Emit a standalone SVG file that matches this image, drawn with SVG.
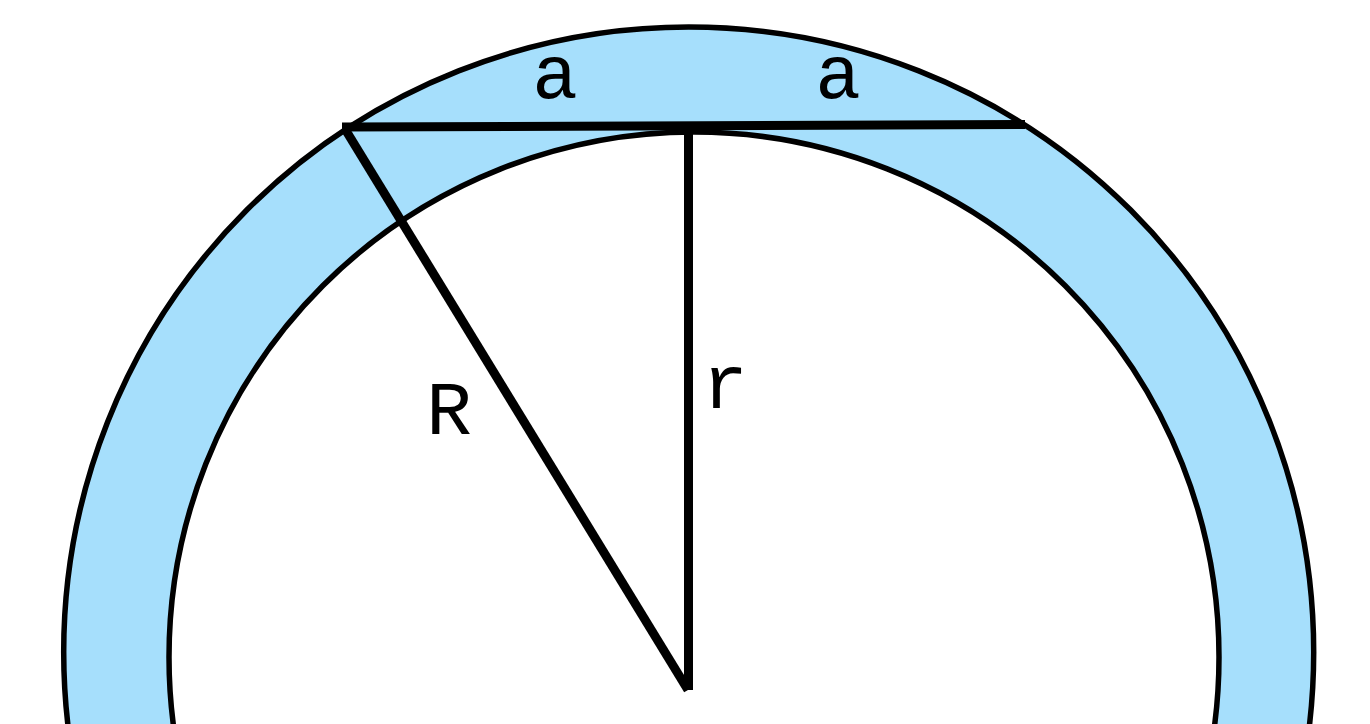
<svg xmlns="http://www.w3.org/2000/svg" width="1370" height="724" viewBox="0 0 1370 724">
<style>
.ring{stroke:#000;stroke-width:5.5}
.seg{stroke:#000;stroke-width:9;stroke-linecap:butt;fill:none}
.lbl{font-family:'Liberation Mono','Courier New','Nimbus Mono PS',FreeMono,'DejaVu Sans Mono',monospace;font-size:76px;fill:#000;text-anchor:middle}
</style>
<rect width="1370" height="724" fill="#fff"/>
<g id="outer-circle"><circle class="ring" cx="688.7" cy="652" r="625" fill="#a6dffc"/></g>
<g id="inner-circle"><circle class="ring" cx="694" cy="657" r="525" fill="#fff"/></g>
<g id="connectors">
<line class="seg" x1="342" y1="127" x2="1025" y2="124.5"/>
<line class="seg" x1="345" y1="129" x2="688" y2="690"/>
<line class="seg" x1="688.5" y1="126" x2="688.5" y2="690"/>
</g>
<g id="labels">
<text class="lbl" x="555" y="98">a</text>
<text class="lbl" x="838" y="98">a</text>
<text class="lbl" x="449" y="434">R</text>
<text class="lbl" x="725" y="408">r</text>
</g>
</svg>
